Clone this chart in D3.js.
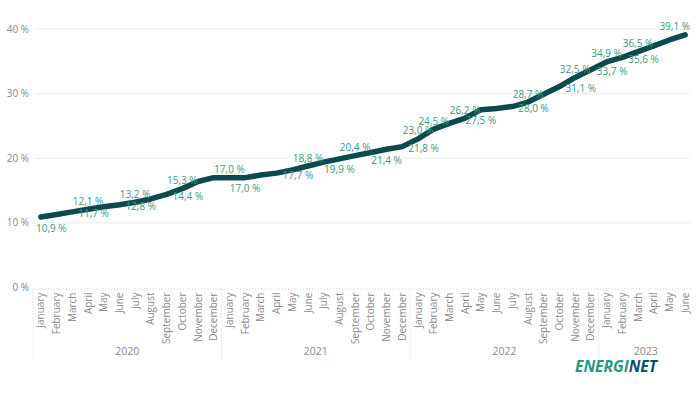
<!DOCTYPE html>
<html>
<head>
<meta charset="utf-8">
<script src="https://cdn.jsdelivr.net/npm/d3@7"></script>
<style>
  body { margin: 0; background: #fff; }
  svg { display: block; font-family: "Open Sans", "Noto Sans", sans-serif; }
</style>
</head>
<body>
<div id="chart"></div>
<script>
const years = ["2020", "2021", "2022", "2023"];
const monthNames = ["January", "February", "March", "April", "May", "June",
    "July", "August", "September", "October", "November", "December"];
const monthsPerYear = [12, 12, 12, 6];

// share in %, Jan 2020 .. Jun 2023
const shares = [
    10.9, 11.3, 11.7, 12.1, 12.5, 12.8, 13.2, 13.7, 14.4, 15.3, 16.4, 17.0,
    17.0, 17.0, 17.4, 17.7, 18.2, 18.8, 19.4, 19.9, 20.4, 20.9, 21.4, 21.8,
    23.0, 24.5, 25.4, 26.2, 27.5, 27.7, 28.0, 28.7, 29.9, 31.1, 32.5, 33.7,
    34.9, 35.6, 36.5, 37.4, 38.3, 39.1
];

// which months carry a data label, and where Power BI put it
const labelMonths = [0, 2, 3, 5, 6, 8, 9, 12, 13, 15, 17, 19, 20, 22, 23, 24, 25, 27, 28, 30, 31, 33, 34, 35, 36, 37, 38, 41];
const labelPlaces = ["below", "right", "above", "right", "above", "right", "above", "above", "below", "right",
    "above", "below", "above", "below", "right", "above", "above", "above", "below", "right",
    "above", "right", "above", "right", "above", "right", "above", "above"];

const yTicks = [0, 10, 20, 30, 40];

const width = 700, height = 393;
const plotLeft = 33, plotRight = 693, plotTop = 29, plotBottom = 287.5;

// build month keys
const months = [];
years.forEach((yr, yi) => {
    for (let m = 0; m < monthsPerYear[yi]; m++) months.push({key: yr + "-" + m, year: yr, name: monthNames[m]});
});
const data = months.map((m, i) => ({...m, value: shares[i]}));

const svg = d3.select("#chart")
    .append("svg")
        .attr("width", width)
        .attr("height", height);

const x = d3.scaleBand()
    .domain(months.map(d => d.key))
    .range([plotLeft, plotRight]);
const cx = k => x(k) + x.bandwidth() / 2;

const y = d3.scaleLinear()
    .domain([0, 40])
    .range([plotBottom, plotTop]);

// gridlines
svg.append("g")
    .selectAll("line")
    .data(yTicks.filter(t => t > 0))
    .join("line")
        .attr("x1", 35)
        .attr("x2", 690)
        .attr("y1", d => y(d))
        .attr("y2", d => y(d))
        .attr("stroke", "#ececec")
        .attr("stroke-width", 1);

// baseline (dotted)
svg.append("line")
    .attr("x1", plotLeft)
    .attr("x2", plotRight)
    .attr("y1", y(0) + 1.5)
    .attr("y2", y(0) + 1.5)
    .attr("stroke", "#d4d4d4")
    .attr("stroke-dasharray", "1,2");

// y axis labels
svg.append("g")
    .selectAll("text")
    .data(yTicks)
    .join("text")
        .attr("x", 29)
        .attr("y", d => y(d))
        .attr("dy", "0.35em")
        .attr("text-anchor", "end")
        .style("font-size", "10px")
        .style("fill", "#8a8a8a")
        .text(d => d + " %");

// month labels
svg.append("g")
    .selectAll("text")
    .data(months)
    .join("text")
        .attr("transform", d => `translate(${cx(d.key)},${y(0) + 5}) rotate(-90)`)
        .attr("dy", "0.35em")
        .attr("text-anchor", "end")
        .style("font-size", "10px")
        .style("fill", "#8a8a8a")
        .text(d => d.name);

// year separators and labels
const yearGroups = years.map(yr => {
    const ms = months.filter(m => m.year === yr);
    return {year: yr, x0: x(ms[0].key), x1: x(ms[ms.length - 1].key) + x.bandwidth()};
});

svg.append("g")
    .selectAll("line")
    .data(yearGroups)
    .join("line")
        .attr("x1", d => d.x0)
        .attr("x2", d => d.x0)
        .attr("y1", y(0) + 2)
        .attr("y2", 360)
        .attr("stroke", "#cfcfcf")
        .attr("stroke-dasharray", "1,2");

svg.append("g")
    .selectAll("text")
    .data(yearGroups)
    .join("text")
        .attr("x", d => (d.x0 + d.x1) / 2)
        .attr("y", 351)
        .attr("dy", "0.35em")
        .attr("text-anchor", "middle")
        .style("font-size", "10.5px")
        .style("fill", "#8a8a8a")
        .text(d => d.year);

// the line
const line = d3.line()
    .x(d => cx(d.key))
    .y(d => y(d.value));

svg.append("path")
    .datum(data)
    .attr("d", line)
    .attr("fill", "none")
    .attr("stroke", "#0d4a4c")
    .attr("stroke-width", 5.5)
    .attr("stroke-linejoin", "round")
    .attr("stroke-linecap", "round");

// data labels
const fmt = v => v.toFixed(1).replace(".", ",") + " %";
const labels = labelMonths.map((i, j) => ({d: data[i], place: labelPlaces[j]}));

const labelText = svg.append("g")
    .selectAll("text")
    .data(labels)
    .join("text")
        .attr("x", l => l.place === "right" ? cx(l.d.key) + 6 : cx(l.d.key))
        .attr("y", l => {
            const py = y(l.d.value);
            if (l.place === "above") return py - 8;
            if (l.place === "below") return py + 11;
            return py + 2;
        })
        .attr("dy", "0.35em")
        .attr("text-anchor", l => l.place === "right" ? "start" : "middle")
        .style("font-size", "10px")
        .style("fill", "#3c9a85")
        .text(l => fmt(l.d.value));

// keep labels inside the plot area
labelText.each(function() {
    const b = this.getBBox();
    const sel = d3.select(this);
    const xNow = +sel.attr("x");
    if (b.x < 36) sel.attr("x", xNow + (36 - b.x));
    if (b.x + b.width > 690) sel.attr("x", xNow - (b.x + b.width - 690));
});

// logo
const logo = svg.append("text")
    .attr("x", 575)
    .attr("y", 372)
    .attr("textLength", 82)
    .attr("lengthAdjust", "spacingAndGlyphs")
    .style("font-size", "16px")
    .style("font-weight", "bold")
    .style("font-style", "italic");
logo.append("tspan").style("fill", "#1d9c80").text("ENERGI");
logo.append("tspan").style("fill", "#0e4f5e").text("NET");
</script>
</body>
</html>
